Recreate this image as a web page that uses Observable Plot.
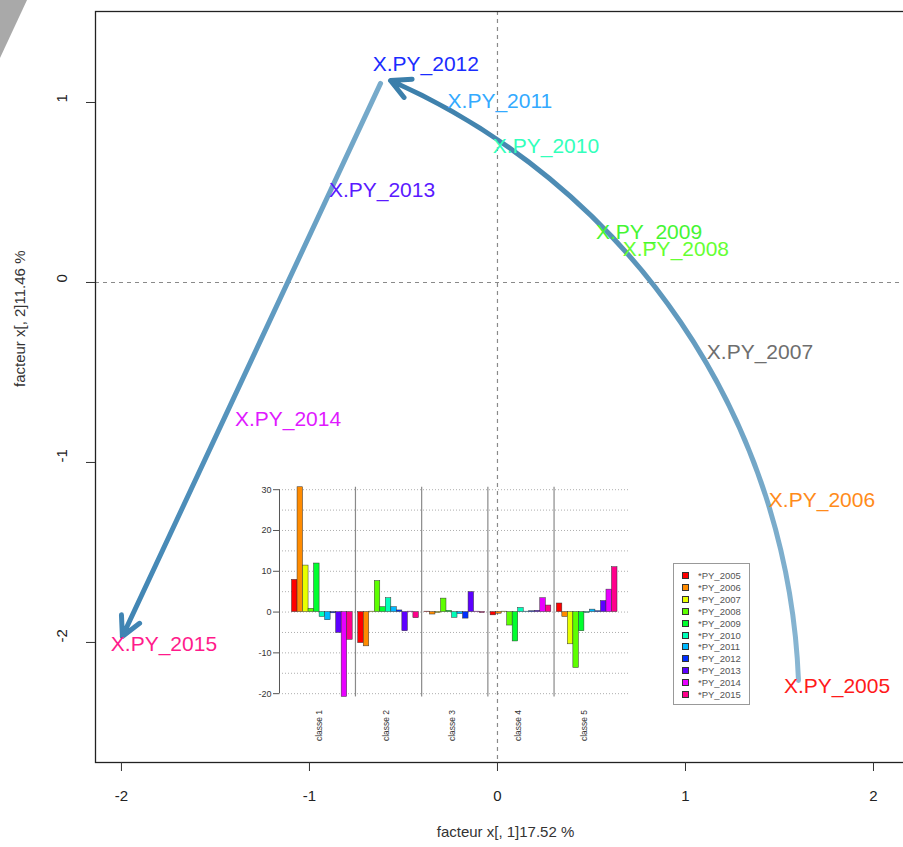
<!DOCTYPE html>
<html><head><meta charset="utf-8">
<script src="https://cdn.jsdelivr.net/npm/d3@7"></script>
<script src="https://cdn.jsdelivr.net/npm/@observablehq/plot@0.6"></script>
<style>
html,body{margin:0;padding:0;background:#fff;overflow:hidden;}
#wrap{position:relative;width:903px;height:847px;overflow:hidden;font-family:"Liberation Sans",Arial,Helvetica,sans-serif;}
#main,#inset,#legend,#corner{position:absolute;}
#corner{left:0;top:0;width:27px;height:58px;background:#a9a9a9;clip-path:polygon(0 0,100% 0,0 100%);}
#legend{left:673px;top:563px;width:77px;height:142px;border:1px solid #999;background:#fff;box-sizing:border-box;}
.lg-row{position:absolute;left:8px;height:10px;display:flex;align-items:center;font-size:9.5px;color:#555;}
.lg-sw{width:7px;height:7px;border:0.5px solid #333;box-sizing:border-box;margin-right:9px;}
</style></head><body>
<div id="wrap"><div id="main"></div><div id="inset"></div><div id="legend"></div><div id="corner"></div></div>
<script>
// ---------- data ----------
const years = ["2005","2006","2007","2008","2009","2010","2011","2012","2013","2014","2015"];
const pointLabels = ["X.PY_2005","X.PY_2006","X.PY_2007","X.PY_2008","X.PY_2009","X.PY_2010","X.PY_2011","X.PY_2012","X.PY_2013","X.PY_2014","X.PY_2015"];
const pointX = [1.806, 1.726, 1.396, 0.949, 0.806, 0.258, 0.013, -0.381, -0.614, -1.114, -1.774];
const pointY = [-2.244, -1.211, -0.389, 0.183, 0.278, 0.756, 1.006, 1.211, 0.511, -0.761, -2.011];
const yearColors = ["#FF0000","#FF8B00","#E8FF00","#5DFF00","#00FF2E","#00FFB9","#00B9FF","#002EFF","#5D00FF","#E800FF","#FF008B"];
const labelColors = ["#FF1a1a","#FF8B1a","#6e6e6e","#66FF33","#44f533","#33FFBB","#33AAFF","#1a2cff","#5a1aff","#E01aFF","#FF1a8B"];
const legendLabels = ["*PY_2005","*PY_2006","*PY_2007","*PY_2008","*PY_2009","*PY_2010","*PY_2011","*PY_2012","*PY_2013","*PY_2014","*PY_2015"];

// arrows (trajectory): curved 2005 -> 2012, straight 2012 -> 2015
const arrowX1 = [1.601, -0.622];
const arrowY1 = [-2.211, 1.106];
const arrowX2 = [-0.569, -1.995];
const arrowY2 = [1.122, -1.967];
const arrowBend = [-32, 0];
const arrowStartColors = ["#8ab7d3", "#78abcb"];
const arrowEndColors = ["#3a7eaa", "#3f84b3"];

const xTicks = [-2, -1, 0, 1, 2];
const yTicks = [-2, -1, 0, 1];
const xTitle = "facteur x[, 1]17.52 %";
const yTitle = "facteur x[, 2]11.46 %";

// inset bar chart
const classes = ["classe 1","classe 2","classe 3","classe 4","classe 5"];
const classe1 = [7.9, 30.6, 11.4, 0.8, 11.9, -1.2, -2.0, -0.3, -5.1, -20.8, -6.8];
const classe2 = [-7.6, -8.4, 0.1, 7.6, 1.2, 3.4, 1.2, 0.4, -4.7, 0.1, -1.5];
const classe3 = [0.1, -0.6, -0.2, 3.3, 0.3, -1.4, -0.5, -1.6, 4.9, 0.1, -0.2];
const classe4 = [-0.8, -0.4, 0.1, -3.3, -7.2, 1.0, 0.1, 0.2, 0.3, 3.4, 1.6];
const classe5 = [2.1, -1.2, -7.9, -13.7, -4.7, -0.2, 0.6, 0.2, 2.7, 5.5, 11.0];
const insetTicks = [-20, -10, 0, 10, 20, 30];
const insetGrid = [-20, -15, -10, -5, 0, 5, 10, 15, 20, 25, 30];

// ---------- main plot ----------
const W = 960, H = 847, mL = 95, mT = 11, mB = 85, mR = 45;
const xDomain = [-2.138, 2.2234], yDomain = [-2.667, 1.5056];
const points = pointLabels.map((t, i) => ({t, x: pointX[i], y: pointY[i], c: labelColors[i]}));
const arrows = arrowX1.map((_, i) => ({x1: arrowX1[i], y1: arrowY1[i], x2: arrowX2[i], y2: arrowY2[i]}));
const font = '"Liberation Sans", Arial, Helvetica, sans-serif';

const main = Plot.plot({
  width: W, height: H, marginLeft: mL, marginRight: mR, marginTop: mT, marginBottom: mB,
  x: {domain: xDomain}, y: {domain: yDomain},
  style: {fontFamily: font, fontSize: "15px", background: "transparent", maxWidth: "none", color: "#222"},
  marks: [
    Plot.ruleX([0], {stroke: "#8a8a8a", strokeWidth: 1.2, strokeDasharray: "4,4"}),
    Plot.ruleY([0], {stroke: "#8a8a8a", strokeWidth: 1.2, strokeDasharray: "4,4"}),
    ...arrows.map((a, i) => Plot.arrow([a], {x1: "x1", y1: "y1", x2: "x2", y2: "y2", bend: arrowBend[i], stroke: "#4f8cb6", strokeWidth: 5, headLength: 6.5, headAngle: 55})),
    Plot.text(points, {x: "x", y: "y", text: "t", fill: "c", fontSize: 21}),
    Plot.frame({stroke: "#222", strokeWidth: 1.3}),
    Plot.axisX({ticks: xTicks, tickSize: 9, tickPadding: 19, tickFormat: d => String(d), label: null, stroke: "#333"}),
    Plot.axisY({ticks: yTicks, tickSize: 9, tickFormat: () => "", label: null, stroke: "#333"}),
    Plot.text(yTicks, {y: d => d, frameAnchor: "left", dx: -33, rotate: -90, text: d => String(d), fill: "#222", fontSize: 15}),
    Plot.text([xTitle], {frameAnchor: "bottom", dy: 74, text: d => d, fill: "#333", fontSize: 15}),
    Plot.text([yTitle], {frameAnchor: "left", dx: -75, rotate: -90, text: d => d, fill: "#333", fontSize: 15})
  ]
});
document.getElementById("main").appendChild(main);

// gradient strokes on arrows
(function() {
  const xp = d3.scaleLinear(xDomain, [mL, W - mR]);
  const yp = d3.scaleLinear(yDomain, [H - mB, mT]);
  const ns = "http://www.w3.org/2000/svg";
  const defs = document.createElementNS(ns, "defs");
  main.insertBefore(defs, main.firstChild);
  const groups = main.querySelectorAll('g[aria-label="arrow"]');
  groups.forEach((g, i) => {
    const lg = document.createElementNS(ns, "linearGradient");
    lg.setAttribute("id", "agrad" + i);
    lg.setAttribute("gradientUnits", "userSpaceOnUse");
    lg.setAttribute("x1", xp(arrowX1[i])); lg.setAttribute("y1", yp(arrowY1[i]));
    lg.setAttribute("x2", xp(arrowX2[i])); lg.setAttribute("y2", yp(arrowY2[i]));
    [[0, arrowStartColors[i]], [1, arrowEndColors[i]]].forEach(([o, c]) => {
      const s = document.createElementNS(ns, "stop");
      s.setAttribute("offset", o); s.setAttribute("stop-color", c);
      lg.appendChild(s);
    });
    defs.appendChild(lg);
    g.setAttribute("stroke", "url(#agrad" + i + ")");
    g.querySelectorAll("path").forEach(p => p.setAttribute("stroke", "url(#agrad" + i + ")"));
  });
})();

// ---------- inset bar chart ----------
const classValues = [classe1, classe2, classe3, classe4, classe5];
const insetKeys = classes.flatMap(c => [c + "|", ...years.map(y => c + "|" + y)]);
const barTable = classes.flatMap((c, i) => years.map((y, j) => ({key: c + "|" + y, classe: c, year: y, value: classValues[i][j]})));
const allVals = classValues.flat();
const vMin = d3.min(allVals), vMax = d3.max(allVals);

const inset = Plot.plot({
  width: 390, height: 280, marginLeft: 29, marginRight: 10, marginTop: 3, marginBottom: 50.6,
  x: {type: "band", domain: insetKeys, range: [36, 367], padding: 0, axis: null},
  y: {domain: [-23, 32.5], axis: null},
  color: {domain: years, range: yearColors},
  style: {fontFamily: font, fontSize: "9px", background: "transparent", maxWidth: "none", color: "#333"},
  marks: [
    Plot.ruleY(insetGrid, {stroke: "#9a9a9a", strokeWidth: 0.8, strokeDasharray: "1,2"}),
    Plot.ruleX(classes.slice(1).map(c => c + "|"), {x: d => d, y1: vMin, y2: vMax, stroke: "#8a8a8a", strokeWidth: 1.2}),
    Plot.ruleX([classes[0] + "|"], {x: d => d, dx: -9.76, y1: d3.min(insetTicks), y2: d3.max(insetTicks), stroke: "#555"}),
    Plot.barY(barTable, {x: "key", y: "value", fill: "year", stroke: "#333", strokeWidth: 0.5}),
    Plot.axisY({ticks: insetTicks, tickSize: 6, tickPadding: 2, tickFormat: d => String(d), label: null, fontSize: 9, stroke: "#555"}),
    Plot.text(classes, {x: c => c + "|2010", frameAnchor: "bottom", dy: 4, rotate: -90, textAnchor: "end", text: d => d, fontSize: 8.5, fill: "#333"})
  ]
});
const insetDiv = document.getElementById("inset");
insetDiv.style.left = "250px"; insetDiv.style.top = "476px";
insetDiv.appendChild(inset);

// legend
const legend = document.getElementById("legend");
legendLabels.forEach((t, i) => {
  const row = document.createElement("div");
  row.className = "lg-row";
  row.style.top = (6.7 + i * 11.86) + "px";
  const sw = document.createElement("div");
  sw.className = "lg-sw";
  sw.style.background = yearColors[i];
  const tx = document.createElement("span");
  tx.textContent = t;
  row.appendChild(sw); row.appendChild(tx);
  legend.appendChild(row);
});
</script>
</body></html>
